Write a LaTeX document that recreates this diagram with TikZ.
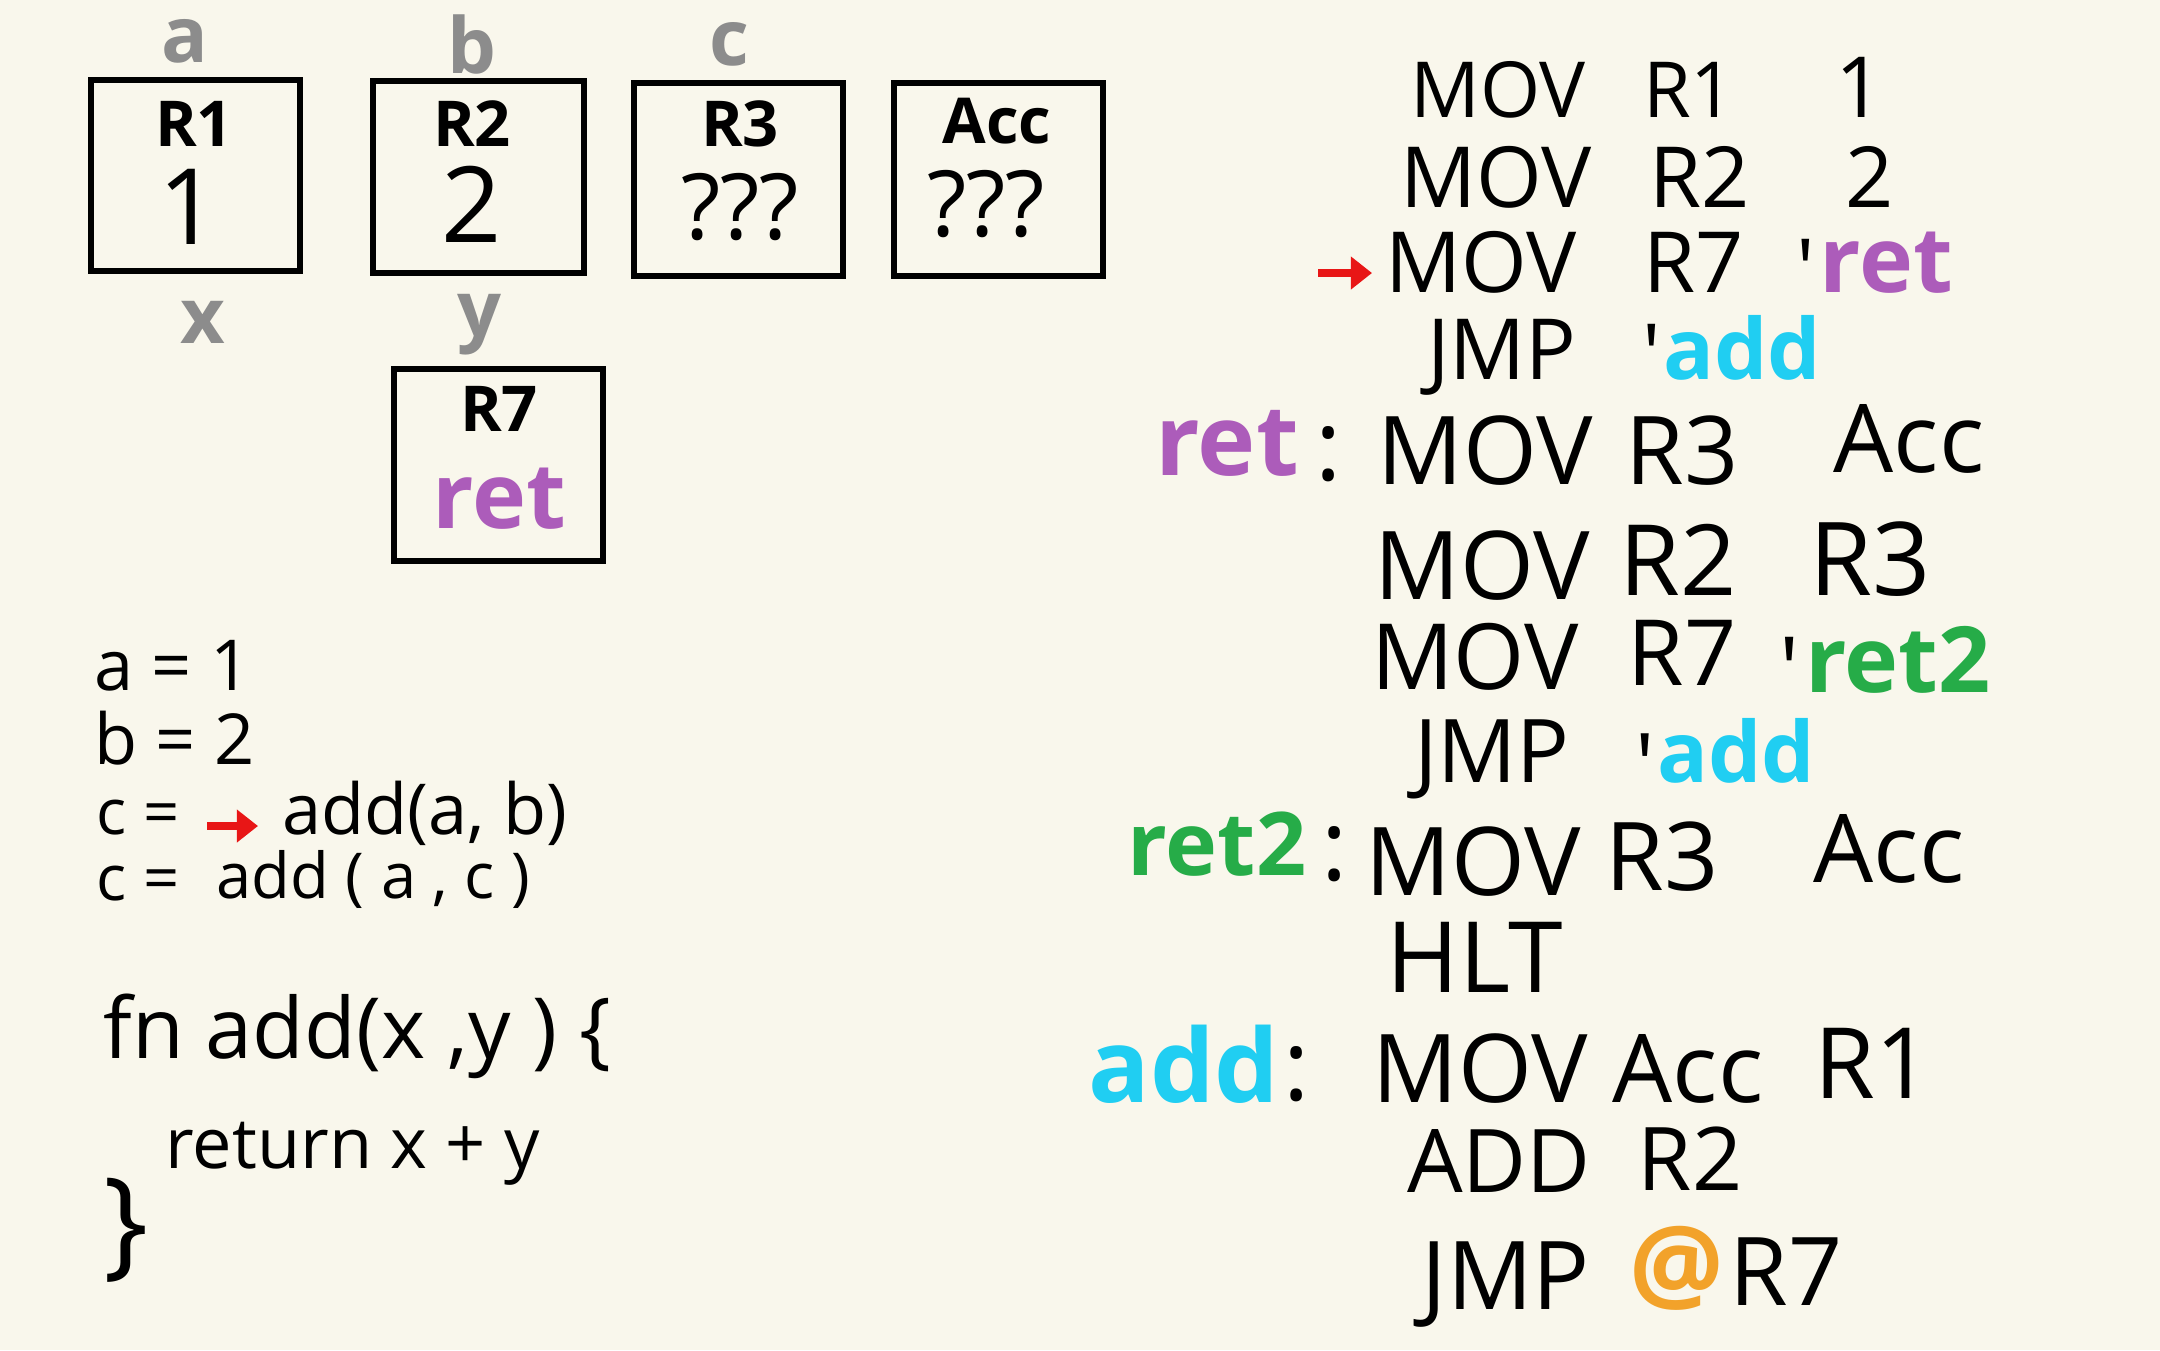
\documentclass[tikz,border=0pt]{standalone}
\usepackage{fontspec}
\setmainfont{Open Sans}
\usetikzlibrary{arrows.meta}
\definecolor{paper}{RGB}{249,247,236}
\definecolor{retc}{RGB}{172,92,186}
\definecolor{addc}{RGB}{32,206,242}
\definecolor{rettwoc}{RGB}{38,172,72}
\definecolor{atc}{RGB}{242,162,42}
\definecolor{tagc}{RGB}{140,140,140}
\definecolor{arrowc}{RGB}{232,22,22}
\tikzset{
  regbox/.style={draw=black, line width=1.8pt, fill=none, inner sep=0pt},
  code/.style={font=\fontsize{#1}{#1}\selectfont, anchor=base, inner sep=0pt, text=black},
  lcode/.style={font=\fontsize{#1}{#1}\selectfont, anchor=base west, inner sep=0pt, text=black},
  tag/.style={font=\fontsize{22}{22}\selectfont\bfseries, text=tagc, inner sep=0pt},
  reglbl/.style={font=\fontsize{18}{18}\selectfont\bfseries, inner sep=0pt},
  regval/.style={font=\fontsize{30}{30}\selectfont, inner sep=0pt},
  redarrow/.style={draw=arrowc, line width=2.4pt, -{Triangle[length=6pt,width=9pt]}}
}
\begin{document}
\begin{tikzpicture}[x=1cm,y=-1cm]
\fill[paper] (0,0) rectangle (21.6,13.5);
\useasboundingbox (0,0) rectangle (21.6,13.5);

% register boxes
\node[regbox, minimum width=2.09cm, minimum height=1.91cm] (r1) at (1.955,1.755) {};
\node[regbox, minimum width=2.11cm, minimum height=1.92cm] (r2) at (4.785,1.77) {};
\node[regbox, minimum width=2.09cm, minimum height=1.93cm] (r3) at (7.385,1.795) {};
\node[regbox, minimum width=2.09cm, minimum height=1.93cm] (acc) at (9.985,1.795) {};
\node[regbox, minimum width=2.09cm, minimum height=1.92cm] (r7) at (4.985,4.65) {};

\node[reglbl] (r1l) at (1.94,1.24) {R1};
\node[regval] (r1v) at (1.89,2.07) {1};
\node[reglbl] (r2l) at (4.72,1.24) {R2};
\node[regval] (r2v) at (4.72,2.04) {2};
\node[reglbl] (r3l) at (7.40,1.24) {R3};
\node[regval, font=\fontsize{26}{26}\selectfont] (r3v) at (7.40,2.07) {???};
\node[reglbl] (accl) at (9.97,1.21) {Acc};
\node[regval, font=\fontsize{26}{26}\selectfont] (accv) at (9.86,2.04) {???};
\node[reglbl] (r7l) at (4.99,4.09) {R7};
\node[font=\fontsize{26}{26}\selectfont\bfseries, text=retc, inner sep=0pt] (r7v) at (4.99,4.99) {ret};

% variable tags
\node[tag] (ta) at (1.85,0.41) {a};
\node[tag] (tb) at (4.72,0.44) {b};
\node[tag] (tc) at (7.29,0.44) {c};
\node[tag] (tx) at (2.03,3.22) {x};
\node[tag] (ty) at (4.79,3.25) {y};

% left code
\node[lcode=20] (la) at (0.94,6.90) {a = 1};
\node[lcode=20] (lb) at (0.94,7.64) {b = 2};
\node[lcode=18] (lc1) at (0.96,8.34) {c =};
\coordinate (lar1) at (2.07,8.26);
\coordinate (lar2) at (2.58,8.26);
\draw[redarrow] (lar1) -- (lar2);
\node[lcode=20] (lc1b) at (2.82,8.34) {add(a, b)};
\node[lcode=18] (lc2) at (0.96,9.00) {c =};
\node[lcode=18] (lc2b) at (2.16,8.98) {add ( a , c )};
\node[lcode=24] (lfn) at (1.03,10.58) {fn add(x ,y ) \{};
\node[lcode=20] (lret) at (1.65,11.68) {return x + y};
\node[font=\fontsize{34}{34}\selectfont, inner sep=0pt] (lbr) at (1.26,12.30) {\}};

% right code
\node[code=22] (c1a) at (14.98,1.17) {MOV};
\node[code=22] (c1b) at (16.89,1.17) {R1};
\node[code=24] (c1c) at (18.60,1.17) {1};

\node[code=24] (c2a) at (14.96,2.07) {MOV};
\node[code=24] (c2b) at (17.00,2.07) {R2};
\node[code=24] (c2c) at (18.70,2.07) {2};

\coordinate (rar1) at (13.18,2.73);
\coordinate (rar2) at (13.72,2.73);
\draw[redarrow] (rar1) -- (rar2);
\node[code=24] (c3a) at (14.81,2.92) {MOV};
\node[code=24] (c3b) at (16.94,2.92) {R7};
\node[code=24] (c3c) at (18.06,2.99) {\textquotesingle};
\node[code=26, text=retc, font=\fontsize{26}{26}\selectfont\bfseries] (c3d) at (18.86,2.92) {ret};

\node[code=24] (c4a) at (15.02,3.79) {JMP};
\node[code=24] (c4b) at (16.52,3.84) {\textquotesingle};
\node[code=26, text=addc, font=\fontsize{24}{24}\selectfont\bfseries] (c4c) at (17.42,3.79) {add};

\node[code=28, text=retc, font=\fontsize{28}{28}\selectfont\bfseries] (c5l) at (12.27,4.75) {ret};
\node[code=28] (c5c) at (13.29,4.80) {:};
\node[code=27] (c5a) at (14.85,4.84) {MOV};
\node[code=27] (c5b) at (16.82,4.84) {R3};
\node[code=27] (c5d) at (19.09,4.72) {Acc};

\node[code=27] (c6a) at (14.82,5.99) {MOV};
\node[code=28] (c6b) at (16.78,5.95) {R2};
\node[code=29] (c6c) at (18.70,5.95) {R3};

\node[code=26] (c7a) at (14.75,6.89) {MOV};
\node[code=26] (c7b) at (16.82,6.85) {R7};
\node[code=26] (c7c) at (17.90,7.02) {\textquotesingle};
\node[code=26, text=rettwoc, font=\fontsize{26}{26}\selectfont\bfseries] (c7d) at (18.98,6.92) {ret2};

\node[code=25] (c8a) at (14.92,7.82) {JMP};
\node[code=25] (c8b) at (16.45,7.96) {\textquotesingle};
\node[code=25, text=addc, font=\fontsize{24}{24}\selectfont\bfseries] (c8c) at (17.36,7.82) {add};

\node[code=26, text=rettwoc, font=\fontsize{25}{25}\selectfont\bfseries] (c9l) at (12.17,8.75) {ret2};
\node[code=28] (c9c) at (13.35,8.80) {:};
\node[code=27] (c9a) at (14.73,8.95) {MOV};
\node[code=27] (c9b) at (16.62,8.90) {R3};
\node[code=27] (c9d) at (18.89,8.82) {Acc};

\node[code=28] (c10a) at (14.75,9.92) {HLT};

\node[code=30, text=addc, font=\fontsize{29}{29}\selectfont\bfseries] (c11l) at (11.84,11.02) {add};
\node[code=28] (c11c) at (12.97,11.00) {:};
\node[code=27] (c11a) at (14.80,11.02) {MOV};
\node[code=27] (c11b) at (16.88,11.02) {Acc};
\node[code=28] (c11d) at (18.73,10.98) {R1};

\node[code=25] (c12a) at (14.99,11.92) {ADD};
\node[code=25] (c12b) at (16.90,11.90) {R2};

\node[code=27] (c13a) at (15.06,13.09) {JMP};
\node[code=30, text=atc, font=\fontsize{30}{30}\selectfont\bfseries] (c13b) at (16.77,13.02) {@};
\node[code=27] (c13c) at (17.86,13.05) {R7};
\end{tikzpicture}
\end{document}
